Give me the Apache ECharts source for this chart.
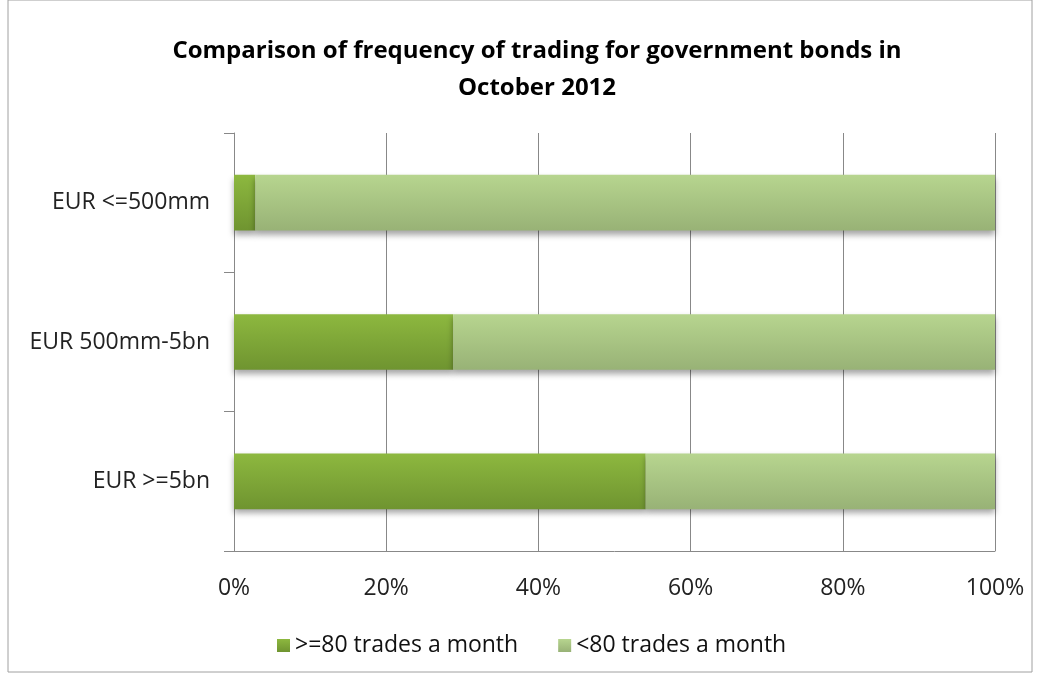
<!DOCTYPE html>
<html>
<head>
<meta charset="utf-8">
<script src="https://cdn.jsdelivr.net/npm/echarts@6/dist/echarts.min.js"></script>
<style>
  html, body { margin: 0; padding: 0; background: #fff; }
  #chart { width: 1040px; height: 676px; }
</style>
</head>
<body>
<div id="chart"></div>
<script>
// categories, bottom to top (yAxis category order)
const categories = ["EUR >=5bn", "EUR 500mm-5bn", "EUR <=500mm"];
// share of bonds, in percent
const frequentTrades = [54.1, 28.8, 2.8];
const rareTrades = [45.9, 71.2, 97.2];
const xTicks = [0, 20, 40, 60, 80, 100];

const chart = echarts.init(document.getElementById("chart"));

function grad(top, bottom) {
  return new echarts.graphic.LinearGradient(0, 0, 0, 1, [
    { offset: 0, color: top },
    { offset: 1, color: bottom },
  ]);
}

const darkFill = grad("#8db83f", "#6f9430");
const lightFill = grad("#b7d58f", "#98b276");

const font = "'Open Sans', 'DejaVu Sans', sans-serif";

chart.setOption({
  backgroundColor: "#fff",
  animation: false,
  graphic: [
    {
      type: "rect",
      shape: { x: 8, y: 0, width: 1024, height: 672 },
      style: { fill: "none", stroke: "#a0a0a0", lineWidth: 1 },
    },
  ],
  title: {
    text: "Comparison of frequency of trading for government bonds in\nOctober 2012",
    left: 532,
    top: 28,
    textAlign: "center",
    textStyle: {
      fontFamily: font,
      fontSize: 24,
      fontWeight: "bold",
      color: "#000",
      lineHeight: 37,
    },
  },
  grid: { left: 234, right: 45, top: 133, bottom: 125 },
  legend: {
    bottom: 14,
    left: 272,
    itemWidth: 13,
    itemHeight: 13,
    itemGap: 40,
    icon: "rect",
    textStyle: { fontFamily: font, fontSize: 23, color: "#111" },
    data: [
      { name: ">=80 trades a month", itemStyle: { color: darkFill } },
      { name: "<80 trades a month", itemStyle: { color: lightFill } },
    ],
  },
  xAxis: {
    type: "value",
    min: 0,
    max: 100,
    interval: 20,
    axisLine: { show: true, lineStyle: { color: "#888" } },
    axisTick: { show: false },
    splitLine: { show: true, lineStyle: { color: "#888", width: 1 } },
    axisLabel: {
      margin: 26,
      fontFamily: font,
      fontSize: 23,
      color: "#222",
      formatter: (v) => (xTicks.includes(v) ? v + "%" : ""),
    },
  },
  yAxis: {
    type: "category",
    data: categories,
    axisLine: { show: true, lineStyle: { color: "#888" } },
    axisTick: { show: true, inside: false, length: 10, lineStyle: { color: "#888" } },
    axisLabel: {
      margin: 24,
      fontFamily: font,
      fontSize: 23,
      color: "#222",
    },
  },
  series: [
    {
      name: ">=80 trades a month",
      type: "bar",
      stack: "total",
      barWidth: "40%",
      data: frequentTrades,
      itemStyle: {
        color: darkFill,
        shadowColor: "rgba(0,0,0,0.35)",
        shadowBlur: 6,
        shadowOffsetY: 4,
      },
    },
    {
      name: "<80 trades a month",
      type: "bar",
      stack: "total",
      barWidth: "40%",
      data: rareTrades,
      itemStyle: {
        color: lightFill,
        shadowColor: "rgba(0,0,0,0.35)",
        shadowBlur: 6,
        shadowOffsetY: 4,
      },
    },
  ],
});
</script>
</body>
</html>
